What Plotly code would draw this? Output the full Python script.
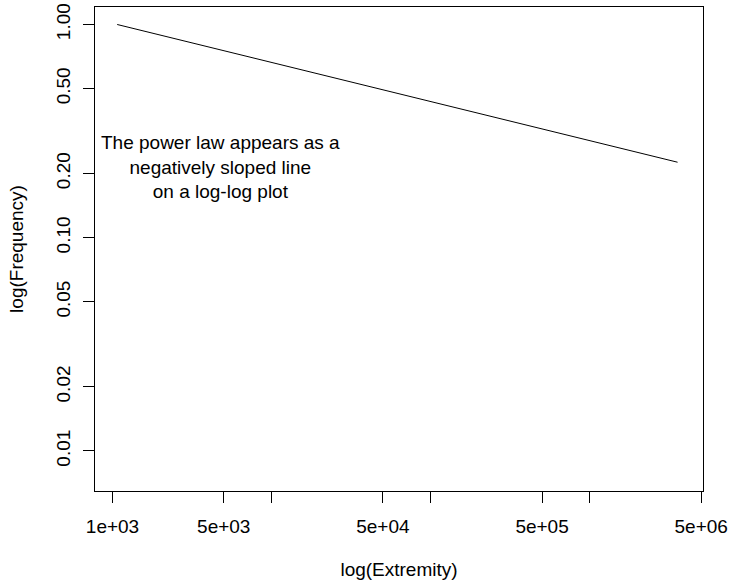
import plotly.graph_objects as go

# Data (log-log power law line)
extremity = [1070, 3.55e6]
frequency = [1.0, 0.226]

x_tickvals = [1e3, 5e3, 1e4, 5e4, 1e5, 5e5, 1e6, 5e6]
x_ticktext = ["1e+03", "5e+03", "", "5e+04", "", "5e+05", "", "5e+06"]
y_tickvals = [0.01, 0.02, 0.05, 0.1, 0.2, 0.5, 1.0]
y_ticktext = ["0.01", "0.02", "0.05", "0.10", "0.20", "0.50", "1.00"]

annotation_text = "The power law appears as a<br>negatively sloped line<br>on a log-log plot"

FONT = "Liberation Sans, Arial, sans-serif"
FS = 19

fig = go.Figure()
fig.add_trace(go.Scatter(
    x=extremity, y=frequency, mode="lines",
    line=dict(color="black", width=1),
    showlegend=False, hoverinfo="skip",
))

fig.add_annotation(
    x=3.678, y=-0.668, xref="x", yref="y",
    text=annotation_text, showarrow=False,
    font=dict(family=FONT, size=FS, color="black"),
    align="center", xanchor="center", yanchor="middle",
)

fig.update_layout(
    width=729, height=583,
    margin=dict(l=95, r=26, t=7, b=92, autoexpand=False),
    paper_bgcolor="white", plot_bgcolor="white",
    font=dict(family=FONT, size=FS, color="black"),
    showlegend=False,
)

fig.update_xaxes(
    type="log", range=[2.890, 6.71], automargin=False,
    tickmode="array", tickvals=x_tickvals, ticktext=x_ticktext,
    ticks="outside", ticklen=11, tickwidth=1, tickcolor="black",
    showline=True, linecolor="black", linewidth=1, mirror=True,
    showgrid=False, zeroline=False,
    tickfont=dict(family=FONT, size=FS, color="black"),
    ticklabelstandoff=7,
    title=dict(text="log(Extremity)", font=dict(family=FONT, size=FS, color="black"), standoff=26),
)
fig.update_yaxes(
    type="log", range=[-2.1876, 0.082], automargin=False,
    tickmode="array", tickvals=y_tickvals, ticktext=y_ticktext,
    ticks="outside", ticklen=11, tickwidth=1, tickcolor="black",
    showline=True, linecolor="black", linewidth=1, mirror=True,
    showgrid=False, zeroline=False, tickangle=-90,
    tickfont=dict(family=FONT, size=FS, color="black"),
    ticklabelstandoff=5,
    title=dict(text="log(Frequency)", font=dict(family=FONT, size=FS, color="black"), standoff=24),
)

fig.write_html("out.html")
